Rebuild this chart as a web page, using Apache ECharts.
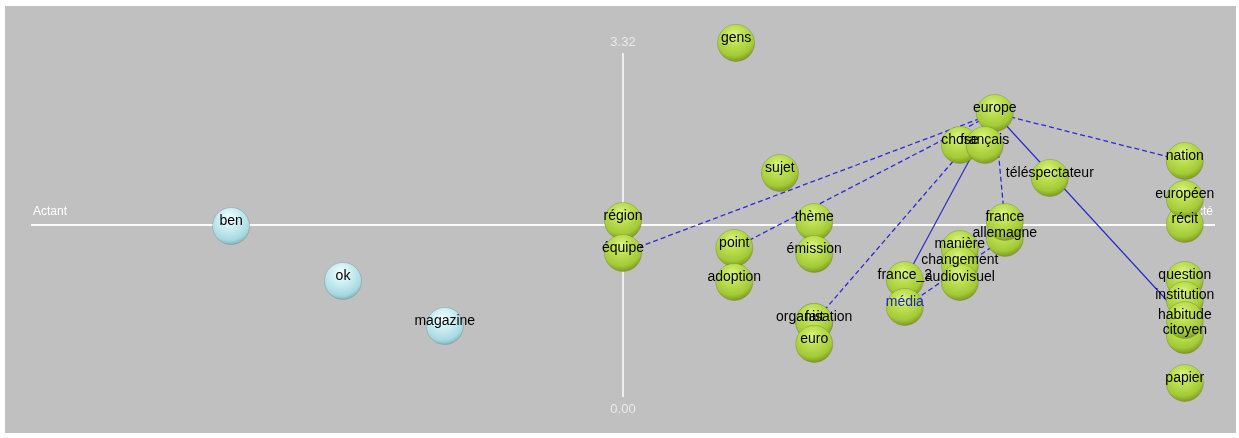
<!DOCTYPE html>
<html>
<head>
<meta charset="utf-8">
<script src="https://cdn.jsdelivr.net/npm/echarts@6/dist/echarts.min.js"></script>
<style>
  html, body { margin: 0; padding: 0; background: #fff; }
  #chart { width: 1239px; height: 438px; }
</style>
</head>
<body>
<div id="chart"></div>
<script>
// left group (blue bubbles)
var blueWords = ['ben', 'ok', 'magazine'];
var blueX = [-0.662, -0.473, -0.301];
var blueY = [1.650, 1.120, 0.685];

// right group (green bubbles)
var greenWords = ['gens', 'sujet', 'région', 'équipe', 'point', 'adoption', 'thème', 'émission',
  'organisation', 'fait', 'euro', 'france_2', 'média', 'manière', 'changement', 'audiovisuel',
  'allemagne', 'france', 'europe', 'chose', 'français', 'téléspectateur',
  'récit', 'européen', 'nation', 'question', 'institution', 'citoyen', 'habitude', 'papier'];
var greenX = [0.191, 0.265, 0, 0, 0.188, 0.188, 0.323, 0.323,
  0.323, 0.323, 0.323, 0.476, 0.476, 0.569, 0.569, 0.569,
  0.645, 0.645, 0.628, 0.569, 0.611, 0.721,
  0.949, 0.949, 0.949, 0.949, 0.949, 0.949, 0.949, 0.949];
var greenY = [3.417, 2.162, 1.699, 1.390, 1.438, 1.110, 1.689, 1.380,
  0.724, 0.724, 0.512, 1.129, 0.869, 1.428, 1.274, 1.110,
  1.535, 1.689, 2.741, 2.432, 2.432, 2.114,
  1.670, 1.911, 2.278, 1.129, 0.936, 0.598, 0.743, 0.135];
var blueLabelWords = ['média'];

// relations
var linkFrom = ['europe', 'europe', 'europe', 'europe', 'europe', 'allemagne', 'europe', 'europe'];
var linkTo = ['équipe', 'point', 'fait', 'france', 'nation', 'média', 'france_2', 'habitude'];
var linkDashed = [true, true, true, true, true, true, false, false];

// axes
var yTicks = ['0.00', '3.32'];
var xEnds = ['Actant', 'Acté'];
var xMin = -1, xMax = 1, yMin = 0, yMax = 3.32;

var pos = {};
blueWords.forEach(function (w, i) { pos[w] = [blueX[i], blueY[i]]; });
greenWords.forEach(function (w, i) { pos[w] = [greenX[i], greenY[i]]; });

var font = '"Liberation Sans", Arial, sans-serif';

var greenFill = {
  type: 'radial', x: 0.45, y: 0.3, r: 0.72,
  colorStops: [
    { offset: 0, color: '#def690' },
    { offset: 0.3, color: '#c0e254' },
    { offset: 0.75, color: '#a4ca38' },
    { offset: 1, color: '#76951a' }
  ]
};
var blueFill = {
  type: 'radial', x: 0.45, y: 0.3, r: 0.72,
  colorStops: [
    { offset: 0, color: '#f4ffff' },
    { offset: 0.35, color: '#cff0f4' },
    { offset: 0.8, color: '#a8d8e0' },
    { offset: 1, color: '#7aaeb8' }
  ]
};

var yMid = (yMin + yMax) / 2;
var axisData = [
  { coords: [[xMin, yMid], [xMax, yMid]], label: { formatter: xEnds[0], position: 'insideStartTop' } },
  { coords: [[xMin, yMid], [xMax, yMid]], label: { formatter: xEnds[1], position: 'insideEndTop' } },
  { coords: [[0, yMin], [0, yMax]], label: { show: false } }
];

var dashedLinks = [], solidLinks = [];
linkFrom.forEach(function (f, i) {
  var item = { coords: [pos[f], pos[linkTo[i]]] };
  (linkDashed[i] ? dashedLinks : solidLinks).push(item);
});

var bubbleLabel = {
  show: true,
  position: 'inside',
  offset: [0, -5],
  color: '#000',
  textBorderWidth: 0,
  fontSize: 14,
  fontFamily: font,
  formatter: function (p) { return p.data.name; }
};

var myChart = echarts.init(document.getElementById('chart'));
var option = {
  backgroundColor: '#ffffff',
  animation: false,
  graphic: [{
    type: 'rect', left: 5, top: 6, z: -10,
    shape: { width: 1231, height: 427 },
    style: { fill: '#c0c0c0' }
  }],
  grid: { left: 31, right: 24, top: 53, bottom: 41 },
  xAxis: { type: 'value', min: xMin, max: xMax, show: false },
  yAxis: { type: 'value', min: yMin, max: yMax, show: false },
  series: [
    {
      // axis cross
      type: 'lines', coordinateSystem: 'cartesian2d', z: 1,
      lineStyle: { color: '#ffffff', width: 1.5, opacity: 1 },
      label: { show: true, color: '#ffffff', fontSize: 12, fontFamily: font, distance: [2, 7] },
      symbol: 'none',
      data: axisData
    },
    {
      // tick labels at the ends of the vertical axis
      type: 'scatter', z: 1, clip: false,
      symbolSize: 0,
      label: {
        show: true, color: '#f4f4f4', fontSize: 13, fontFamily: font,
        formatter: function (p) { return p.data.name; }
      },
      data: [
        { name: yTicks[1], value: [0, yMax], label: { position: 'top', distance: 4 } },
        { name: yTicks[0], value: [0, yMin], label: { position: 'bottom', distance: 6 } }
      ]
    },
    {
      type: 'lines', coordinateSystem: 'cartesian2d', z: 2,
      lineStyle: { color: '#2b2bd6', width: 1.3, type: [5, 3], opacity: 1 },
      data: dashedLinks
    },
    {
      type: 'lines', coordinateSystem: 'cartesian2d', z: 2,
      lineStyle: { color: '#2b2bc8', width: 1.2, opacity: 1 },
      symbol: ['none', 'arrow'], symbolSize: 6,
      data: solidLinks
    },
    {
      type: 'scatter', z: 3, clip: false,
      symbolSize: 37,
      itemStyle: { color: blueFill, opacity: 1, borderColor: 'rgba(70,110,115,0.45)', borderWidth: 0.6 },
      label: bubbleLabel,
      data: blueWords.map(function (w, i) { return { name: w, value: [blueX[i], blueY[i]] }; })
    },
    {
      type: 'scatter', z: 3, clip: false,
      symbolSize: 37,
      itemStyle: { color: greenFill, opacity: 1, borderColor: 'rgba(80,100,20,0.45)', borderWidth: 0.6 },
      label: bubbleLabel,
      data: greenWords.map(function (w, i) {
        var d = { name: w, value: [greenX[i], greenY[i]] };
        if (blueLabelWords.indexOf(w) >= 0) d.label = { color: '#2222c8' };
        return d;
      })
    }
  ]
};
myChart.setOption(option);
</script>
</body>
</html>
